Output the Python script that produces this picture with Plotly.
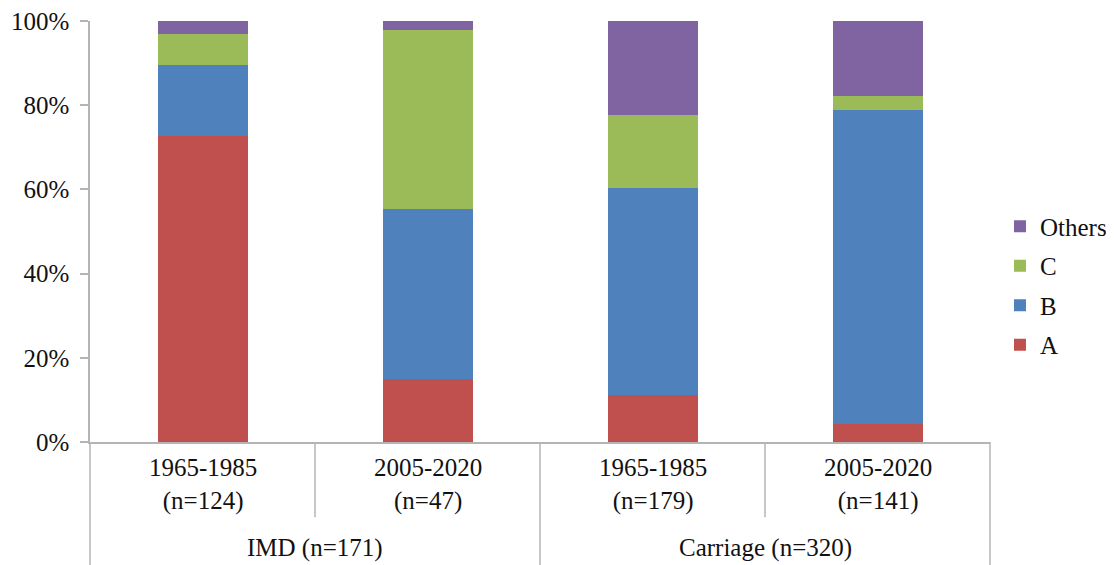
import plotly.graph_objects as go

periods = ["1965-1985<br>(n=124)", "2005-2020<br>(n=47)", "1965-1985<br>(n=179)", "2005-2020<br>(n=141)"]
groups = ["IMD (n=171)", "Carriage (n=320)"]
group_members = [2, 2]

series_names = ["A", "B", "C", "Others"]
A = [72.6, 14.9, 11.2, 4.3]
B = [16.9, 40.4, 49.2, 74.5]
C = [7.3, 42.6, 17.3, 3.5]
Others = [3.2, 2.1, 22.3, 17.7]
colors = ["#C0504D", "#4F81BD", "#9BBB59", "#8064A2"]

y_ticks = [0, 20, 40, 60, 80, 100]
y_tick_labels = ["0%", "20%", "40%", "60%", "80%", "100%"]

FONT = "Liberation Serif, Times New Roman, serif"
FS = 25
TXT = "#111111"
AXIS_COLOR = "#B4B4B4"

W, H = 1106, 557
ML, MT = 82, 13
PW, PH = 900, 420.7
MR = W - ML - PW
MB = H - MT - PH

xpos = list(range(len(periods)))

fig = go.Figure()
for k, (name, vals, col) in enumerate(zip(series_names, [A, B, C, Others], colors)):
    fig.add_trace(go.Bar(x=xpos, y=vals, name=name, legendgroup=name,
                         legendrank=len(series_names) - k,
                         marker=dict(color=col, line=dict(width=0)), width=0.4))

fig.update_layout(
    barmode="stack",
    width=W, height=H,
    margin=dict(l=ML, r=MR, t=MT, b=MB, autoexpand=False),
    paper_bgcolor="white", plot_bgcolor="white",
    font=dict(family=FONT, size=FS, color=TXT),
    showlegend=True,
    legend=dict(traceorder="grouped", tracegroupgap=4, x=1.0111, xanchor="left", y=0.372,
                yanchor="middle",
                font=dict(family=FONT, size=FS, color=TXT), bgcolor="rgba(0,0,0,0)"),
)

fig.update_yaxes(range=[0, 100], tickmode="array", tickvals=y_ticks, ticktext=y_tick_labels,
                 automargin=False, ticklabelstandoff=6, ticklabeloverflow="allow",
                 showgrid=False, zeroline=False, showline=True, linecolor=AXIS_COLOR, linewidth=1.5,
                 ticks="outside", ticklen=8, tickcolor=AXIS_COLOR, tickwidth=1.5,
                 tickfont=dict(family=FONT, size=FS, color=TXT))
fig.update_xaxes(range=[-0.5, len(periods) - 0.5], showticklabels=False, showgrid=False, zeroline=False,
                 automargin=False,
                 showline=True, linecolor=AXIS_COLOR, linewidth=1.5, ticks="")

# period labels
for i, lab in enumerate(periods):
    fig.add_annotation(x=i, xref="x", y=0, yref="paper", yanchor="middle", yshift=-42,
                       text=lab, showarrow=False, font=dict(family=FONT, size=FS, color=TXT))

# group labels and dividers
n = len(periods)
start = 0
for g, cnt in zip(groups, group_members):
    center = start + (cnt - 1) / 2
    fig.add_annotation(x=center, xref="x", y=0, yref="paper", yanchor="middle", yshift=-106,
                       text=g, showarrow=False, font=dict(family=FONT, size=FS, color=TXT))
    start += cnt

boundaries_long = [0]
acc = 0
for cnt in group_members:
    acc += cnt
    boundaries_long.append(acc)
for b in range(n + 1):
    xp = b / n
    if b in boundaries_long:
        y1 = -MB / PH
    else:
        y1 = -(517 - 441.7) / PH
    fig.add_shape(type="line", xref="paper", yref="paper", x0=xp, x1=xp, y0=0, y1=y1,
                  line=dict(color=AXIS_COLOR, width=1.5))

fig.write_html("out.html")
